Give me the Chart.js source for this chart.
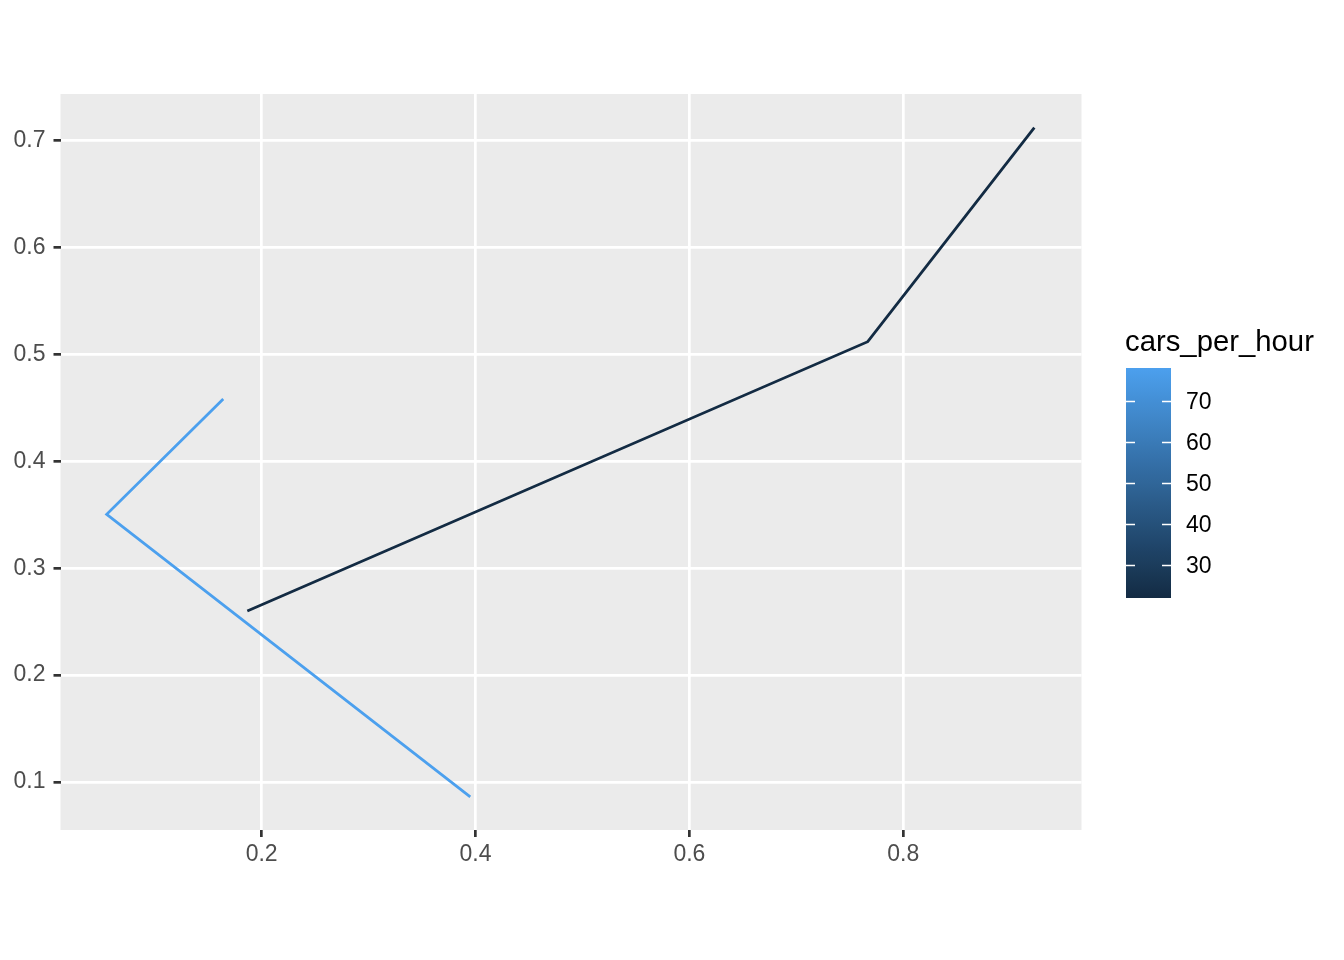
<!DOCTYPE html>
<html>
<head>
<meta charset="utf-8">
<script src="https://cdn.jsdelivr.net/npm/chart.js@4"></script>
<style>
  html, body { margin: 0; padding: 0; background: #ffffff; }
  #wrap { width: 1344px; height: 960px; position: relative; }
</style>
</head>
<body>
<div id="wrap"><canvas id="c" width="1344" height="960"></canvas></div>
<script>
// ---- data ----
const darkPathX = [0.1866, 0.7668, 0.9226];
const darkPathY = [0.2600, 0.5119, 0.7121];
const bluePathX = [0.1641, 0.0551, 0.3951];
const bluePathY = [0.4583, 0.3504, 0.0860];
const carsPerHour = [22.0, 78.0];           // value of dark path, blue path
const xTicks = [0.2, 0.4, 0.6, 0.8];
const yTicks = [0.1, 0.2, 0.3, 0.4, 0.5, 0.6, 0.7];
const legendTicks = [30, 40, 50, 60, 70];
const legendTitle = 'cars_per_hour';

const LOW = [0x13, 0x2B, 0x43], HIGH = [0x4C, 0xA0, 0xEE];
const vMin = Math.min(...carsPerHour), vMax = Math.max(...carsPerHour);
function colorFor(v) {
  const t = (v - vMin) / (vMax - vMin);
  const c = LOW.map((l, i) => Math.round(l + (HIGH[i] - l) * t));
  return `rgb(${c[0]},${c[1]},${c[2]})`;
}
function pts(xs, ys) { return xs.map((x, i) => ({ x, y: ys[i] })); }

const FONT = "'Liberation Sans', Arial, Helvetica, sans-serif";

const panelBg = {
  id: 'panelBg',
  beforeDraw(chart) {
    const { ctx, chartArea: a } = chart;
    ctx.save();
    ctx.fillStyle = '#EBEBEB';
    ctx.fillRect(a.left, a.top, a.right - a.left, a.bottom - a.top);
    ctx.restore();
  }
};

const colorbar = {
  id: 'colorbar',
  afterDraw(chart) {
    const ctx = chart.ctx;
    const bx = 1126, bw = 45, top = 368, bottom = 598;
    const yOf = v => bottom - (v - vMin) / (vMax - vMin) * (bottom - top);
    ctx.save();
    ctx.fillStyle = '#000000';
    ctx.font = `29.3px ${FONT}`;
    ctx.textAlign = 'left';
    ctx.textBaseline = 'alphabetic';
    ctx.fillText(legendTitle, 1125, 351);
    const g = ctx.createLinearGradient(0, bottom, 0, top);
    const steps = 20;
    for (let i = 0; i <= steps; i++) {
      g.addColorStop(i / steps, colorFor(vMin + (vMax - vMin) * i / steps));
    }
    ctx.fillStyle = g;
    ctx.fillRect(bx, top, bw, bottom - top);
    ctx.strokeStyle = '#ffffff';
    ctx.lineWidth = 1.3;
    ctx.font = `23px ${FONT}`;
    ctx.textBaseline = 'middle';
    ctx.fillStyle = '#000000';
    legendTicks.forEach(v => {
      const y = Math.round(yOf(v)) + 0.5;
      ctx.beginPath();
      ctx.moveTo(bx, y); ctx.lineTo(bx + 9, y);
      ctx.moveTo(bx + bw - 9, y); ctx.lineTo(bx + bw, y);
      ctx.stroke();
      ctx.fillText(String(v), 1186, y + 1);
    });
    ctx.restore();
  }
};

new Chart(document.getElementById('c'), {
  type: 'scatter',
  data: {
    datasets: [
      { data: pts(darkPathX, darkPathY), showLine: true, borderColor: colorFor(carsPerHour[0]),
        borderWidth: 2.8, pointRadius: 0, pointHoverRadius: 0, tension: 0, fill: false },
      { data: pts(bluePathX, bluePathY), showLine: true, borderColor: colorFor(carsPerHour[1]),
        borderWidth: 2.8, pointRadius: 0, pointHoverRadius: 0, tension: 0, fill: false }
    ]
  },
  options: {
    responsive: false,
    animation: false,
    events: [],
    layout: { padding: { top: 94, right: 262.5, left: 0, bottom: 0 } },
    plugins: { legend: { display: false }, tooltip: { enabled: false } },
    scales: {
      x: {
        type: 'linear', min: 0.0119, max: 0.9667,
        afterBuildTicks(s) { s.ticks = xTicks.map(v => ({ value: v })); },
        afterFit(s) { s.height = 130; },
        border: { display: false },
        grid: { color: '#ffffff', lineWidth: 2.7, tickColor: '#333333', tickWidth: 2.7, tickLength: 7, drawOnChartArea: true },
        ticks: { color: '#4D4D4D', font: { family: FONT, size: 23 }, padding: 4, maxRotation: 0,
                 callback: v => v.toFixed(1) }
      },
      y: {
        type: 'linear', min: 0.0551, max: 0.7436,
        afterBuildTicks(s) { s.ticks = yTicks.map(v => ({ value: v })); },
        afterFit(s) { s.width = 60.5; },
        border: { display: false },
        grid: { color: '#ffffff', lineWidth: 2.7, tickColor: '#333333', tickWidth: 2.7, tickLength: 7 },
        ticks: { color: '#4D4D4D', font: { family: FONT, size: 23 }, padding: 8,
                 callback: v => v.toFixed(1) }
      }
    }
  },
  plugins: [panelBg, colorbar]
});
</script>
</body>
</html>
